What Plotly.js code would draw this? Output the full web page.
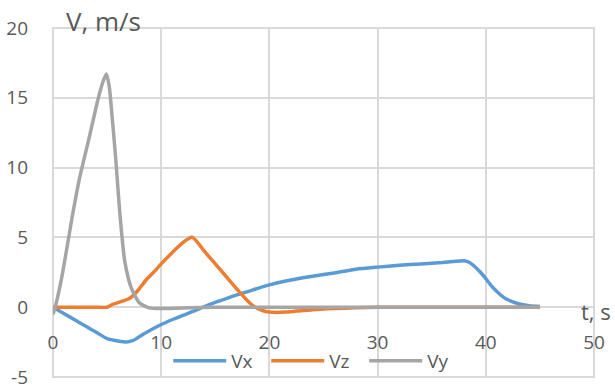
<!DOCTYPE html>
<html>
<head>
<meta charset="utf-8">
<script src="https://cdn.plot.ly/plotly-3.0.1.min.js"></script>
<style>html,body{margin:0;padding:0;background:#fff;}#chart{width:615px;height:392px;}</style>
</head>
<body>
<div id="chart"></div>
<script>
// Time (s) and velocity (m/s) values
const tVx = [0, 1, 2, 3, 4, 5, 6, 6.8, 7.5, 8.3, 9, 10, 11, 12, 13, 14, 15, 16, 17, 18, 20, 22, 24, 26, 28, 30, 32, 34, 36, 37, 38, 38.5, 39, 39.5, 40, 40.5, 41, 41.5, 42, 43, 44, 45];
const vx  = [0, -0.45, -0.9, -1.35, -1.8, -2.25, -2.42, -2.5, -2.35, -1.95, -1.65, -1.24, -0.9, -0.58, -0.28, 0.05, 0.35, 0.62, 0.88, 1.12, 1.6, 1.95, 2.22, 2.45, 2.72, 2.87, 3.0, 3.1, 3.2, 3.27, 3.33, 3.2, 2.9, 2.5, 2.05, 1.55, 1.15, 0.8, 0.55, 0.25, 0.1, 0.05];

const tVz = [0, 1, 2, 3, 4, 5, 5.5, 6, 6.5, 7, 7.5, 8, 8.6, 9.3, 10, 11, 12, 12.5, 12.85, 13.3, 14, 15, 16, 17, 18, 18.5, 19, 19.5, 20, 20.7, 21.5, 22.5, 24, 26, 28, 30, 35, 40, 45];
const vz  = [0, 0, 0, 0, 0, 0, 0.2, 0.33, 0.45, 0.6, 0.9, 1.35, 1.95, 2.5, 3.1, 3.9, 4.62, 4.9, 5.02, 4.7, 4.0, 3.1, 2.2, 1.3, 0.45, 0.1, -0.12, -0.27, -0.35, -0.38, -0.35, -0.28, -0.18, -0.1, -0.04, 0, 0, 0, 0];

const tVy = [0, 0.2, 0.8, 1.85, 2.47, 3.39, 4.16, 4.6, 4.93, 5.2, 5.4, 5.8, 6.16, 6.63, 7.24, 8.0, 8.9, 10, 12, 15, 20, 30, 45];
const vy  = [-0.5, 0, 2.1, 6.8, 9.3, 12.3, 14.9, 16.1, 16.7, 15.8, 14.2, 10.6, 6.9, 3.3, 1.37, 0.3, -0.05, -0.1, -0.05, 0, 0, 0, 0];

const seriesNames = ['Vx', 'Vz', 'Vy'];
const seriesColors = ['#5B9BD5', '#ED7D31', '#A5A5A5'];
const xTicks = [0, 10, 20, 30, 40, 50];
const yTicks = [-5, 0, 5, 10, 15, 20];
const yTitle = 'V, m/s';
const xTitle = 't, s';

const xs = [tVx, tVz, tVy];
const ys = [vx, vz, vy];

const font = "'Open Sans', 'Liberation Sans', sans-serif";
const txtColor = '#595959';
const gridColor = '#d9d9d9';

const data = seriesNames.map((n, i) => ({
  x: xs[i], y: ys[i], name: n, type: 'scatter', mode: 'lines',
  line: {color: seriesColors[i], width: 3.5, shape: 'spline', smoothing: 0.6}
}));

const layout = {
  width: 615, height: 392,
  margin: {l: 53, r: 21, t: 28, b: 13, pad: 0},
  paper_bgcolor: '#fff', plot_bgcolor: '#fff',
  font: {family: font, size: 19, color: txtColor},
  showlegend: true,
  legend: {
    orientation: 'h', x: 0.213, xanchor: 'left', y: 0.046, yanchor: 'middle',
    bgcolor: 'rgba(0,0,0,0)', font: {family: font, size: 19, color: txtColor},
    itemwidth: 53, entrywidth: 30, entrywidthmode: 'pixels', traceorder: 'normal'
  },
  xaxis: {
    range: [0, 50], tickvals: xTicks, ticktext: xTicks.map(String),
    showgrid: true, gridcolor: gridColor, gridwidth: 2,
    zeroline: false, showline: false, ticks: '',
    anchor: 'free', position: 0.2, ticklabelstandoff: 22,
    tickfont: {family: font, size: 19, color: txtColor}
  },
  yaxis: {
    range: [-5, 20], tickvals: yTicks, ticktext: yTicks.map(String),
    showgrid: true, gridcolor: gridColor, gridwidth: 2,
    zeroline: true, zerolinecolor: gridColor, zerolinewidth: 2,
    showline: false, ticks: '', ticklabelstandoff: 24,
    tickfont: {family: font, size: 19, color: txtColor}
  },
  shapes: [
    {type: 'rect', xref: 'paper', yref: 'paper', x0: 0, x1: 1, y0: 0, y1: 1,
     line: {color: gridColor, width: 2}, layer: 'below'}
  ],
  annotations: [
    {text: yTitle, xref: 'paper', yref: 'paper', x: 0.02, y: 1.02, xanchor: 'left', yanchor: 'middle',
     showarrow: false, font: {family: font, size: 26, color: txtColor}},
    {text: xTitle, xref: 'paper', yref: 'paper', x: 0.972, y: 0.188, xanchor: 'left', yanchor: 'middle',
     showarrow: false, font: {family: font, size: 22, color: txtColor}}
  ]
};

function stretchLegendLines() {
  document.querySelectorAll('g.legend g.legendlines path').forEach(p => p.setAttribute('d', 'M5,0h53'));
}
Plotly.newPlot('chart', data, layout, {staticPlot: true, displayModeBar: false}).then(() => {
  stretchLegendLines();
  setTimeout(stretchLegendLines, 0);
});
</script>
</body>
</html>
